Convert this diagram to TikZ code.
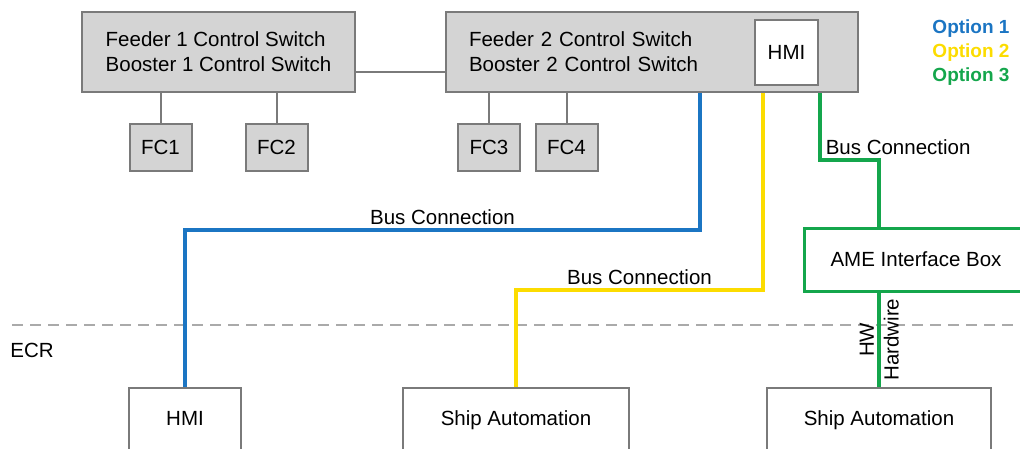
\documentclass[tikz,border=0pt]{standalone}
\usepackage{fontspec}
\setmainfont{Liberation Sans}
\definecolor{boxgray}{HTML}{D4D4D4}
\definecolor{linegray}{HTML}{7A7A7A}
\definecolor{dashgray}{HTML}{AAAAAA}
\definecolor{optblue}{HTML}{1B75C3}
\definecolor{optyellow}{HTML}{FCDC00}
\definecolor{optgreen}{HTML}{14A64C}

\begin{document}
\begin{tikzpicture}[x=1pt, y=-1pt, node distance=24pt, font=\fontsize{20.5}{25}\selectfont,
  sw/.style = {draw=linegray, fill=boxgray, line width=2pt, minimum height=80pt, align=left},
  fc/.style = {draw=linegray, fill=boxgray, line width=2pt, minimum width=62pt, minimum height=47pt},
  dev/.style = {draw=linegray, fill=white, line width=2pt, anchor=north, inner ysep=0pt, text height=37pt, text depth=43pt},
  link/.style = {draw=linegray, line width=2pt},
  bus/.style = {line width=3.5pt},
  opt/.style = {font=\fontsize{19}{23}\selectfont\bfseries}]
\useasboundingbox (0,0) rectangle (1020,448);
\coordinate (ecrl) at (12,325);
\coordinate (ecrr) at (1020,325);
\draw[dashgray, line width=2.5pt, dash pattern=on 11pt off 7pt] (ecrl) -- (ecrr);
\node (ecr) at (32,350) {ECR};
\node[sw, minimum width=273pt] (sw1) at (218.5,52) {Feeder 1 Control Switch\\Booster 1 Control Switch};
\node[sw, text width=366pt, inner xsep=23pt] (sw2) at (652,52) {Feeder 2 Control Switch\\Booster 2 Control Switch};
\node[draw=linegray, fill=white, line width=2pt, minimum width=63pt, minimum height=65pt] (hmi1) at (786.5,52.5) {HMI};
\node[fc] (fc1) at (160.5,147) {FC1};
\node[fc] (fc2) at (276.5,147) {FC2};
\node[fc] (fc3) at (489,147) {FC3};
\node[fc] (fc4) at (566.5,147) {FC4};
\node[draw=optgreen, fill=white, line width=3pt, minimum width=224pt, minimum height=63pt] (ame) at (916,259.5) {AME Interface Box};
\node[dev, minimum width=112pt] (hmi2) at (185,387) {HMI};
\node[dev, minimum width=226pt] (sa1) at (516,387) {Ship Automation};
\node[dev, minimum width=224pt] (sa2) at (879,387) {Ship Automation};
\node[opt, text=optblue] (opt1) at (971,29) {Option 1};
\node[opt, text=optyellow, below of=opt1] (opt2) {Option 2};
\node[opt, text=optgreen, below of=opt2] (opt3) {Option 3};
\draw[link] ([yshift=-20pt]sw1.east) -- ([yshift=-20pt]sw2.west);
\draw[link] (fc1.north) -- (fc1.north |- sw1.south);
\draw[link] (fc2.north) -- (fc2.north |- sw1.south);
\draw[link] (fc3.north) -- (fc3.north |- sw2.south);
\draw[link] (fc4.north) -- (fc4.north |- sw2.south);
\coordinate (bb) at (700,230);
\coordinate (yb) at (763,290);
\coordinate (gb) at (820,160);
\draw[bus, draw=optblue] (sw2.south -| bb) -- (bb) -| node[pos=0.25, above] {Bus Connection} (hmi2.north);
\draw[bus, draw=optyellow] (sw2.south -| yb) -- (yb) -| node[pos=0.25, above] {Bus Connection} (sa1.north);
\draw[bus, draw=optgreen] (sw2.south -| gb) -- (gb) node[anchor=south west, inner sep=4pt] {Bus Connection} -| (ame.north -| sa2.north);
\draw[bus, draw=optgreen] (ame.south -| sa2.north) -- node[rotate=90, anchor=south] {HW} node[rotate=90, anchor=north, inner sep=3pt] {Hardwire} (sa2.north);
\end{tikzpicture}
\end{document}
